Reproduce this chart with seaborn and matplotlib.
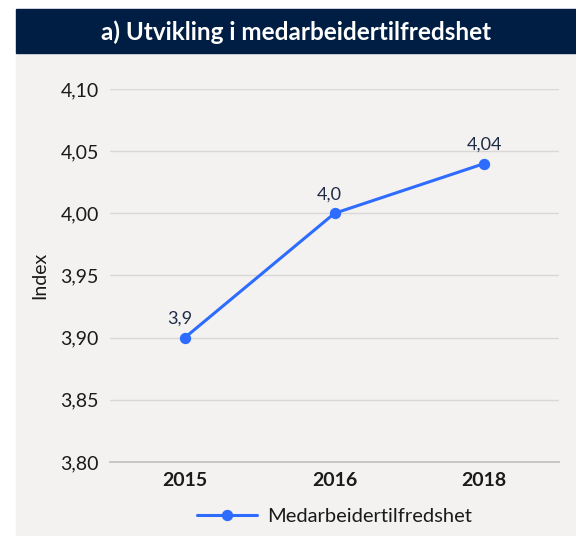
import matplotlib
matplotlib.use("Agg")
import matplotlib.pyplot as plt
import matplotlib.patches as mpatches
import seaborn as sns
import pandas as pd

years = ["2015", "2016", "2018"]
values = [3.90, 4.00, 4.04]
value_labels = ["3,9", "4,0", "4,04"]
y_ticks = [3.80, 3.85, 3.90, 3.95, 4.00, 4.05, 4.10]
y_tick_labels = ["3,80", "3,85", "3,90", "3,95", "4,00", "4,05", "4,10"]
title = "a) Utvikling i medarbeidertilfredshet"
series_name = "Medarbeidertilfredshet"

sns.set_theme(style="white")
plt.rcParams["font.family"] = ["Lato", "DejaVu Sans"]

W, H = 576, 536
fig = plt.figure(figsize=(W / 100, H / 100), dpi=100)
fig.patch.set_facecolor("white")

panel_bg = "#f3f2f1"
navy = "#001e44"
line_col = "#2d6cff"
text_col = "#1a1a1a"

# background panel and title band
fig.add_artist(mpatches.Rectangle((16 / W, 0), (W - 16) / W, (H - 53) / H,
                                  transform=fig.transFigure, color=panel_bg, zorder=0))
fig.add_artist(mpatches.Rectangle((16 / W, (H - 53) / H), (W - 16) / W, 44 / H,
                                  transform=fig.transFigure, color=navy, zorder=0))
fig.text((16 + W) / 2 / W, (H - 32) / H, title, color="white", fontsize=17.5,
         fontweight="bold", ha="center", va="center")

left, right = 110, 559
top, bottom = 89, 462
ax = fig.add_axes([left / W, (H - bottom) / H, (right - left) / W, (bottom - top) / H])
ax.set_facecolor(panel_bg)

df = pd.DataFrame({"year": years, "value": values, "series": series_name})
sns.pointplot(data=df, x="year", y="value", hue="series", palette=[line_col],
              ax=ax, markers="o", linewidth=2.2, markersize=6.5, legend=True)

ax.set_ylim(3.80, 4.10)
ax.set_xlim(-0.5, len(years) - 0.5)
ax.set_yticks(y_ticks)
ax.set_yticklabels(y_tick_labels, fontsize=14, color=text_col)
ax.set_xticks(range(len(years)))
ax.set_xticklabels(years, fontsize=14, fontweight="bold", color=text_col)
ax.tick_params(axis="y", length=0, pad=8)
ax.tick_params(axis="x", length=0, pad=7)
ax.yaxis.grid(True, color="#d9d8d6", linewidth=1)
ax.set_axisbelow(True)
for s in ["top", "right", "left"]:
    ax.spines[s].set_visible(False)
ax.spines["bottom"].set_color("#c4c3c1")
ax.spines["bottom"].set_linewidth(1.3)
ax.set_xlabel("")
ax.set_ylabel("Index", fontsize=14, color=text_col, labelpad=9)

for i, (v, lab) in enumerate(zip(values, value_labels)):
    ax.annotate(lab, (i, v), xytext=(-4 if i < 2 else 0, 8), textcoords="offset points",
                ha="center", va="bottom", fontsize=13, color="#1d2b45")

leg = ax.legend(loc="upper center", bbox_to_anchor=(0.5, -0.075), frameon=False,
                fontsize=14.5, handlelength=3.0, handletextpad=0.5)
for t in leg.get_texts():
    t.set_color(text_col)

fig.savefig("out.png", dpi=100, facecolor=fig.get_facecolor())
